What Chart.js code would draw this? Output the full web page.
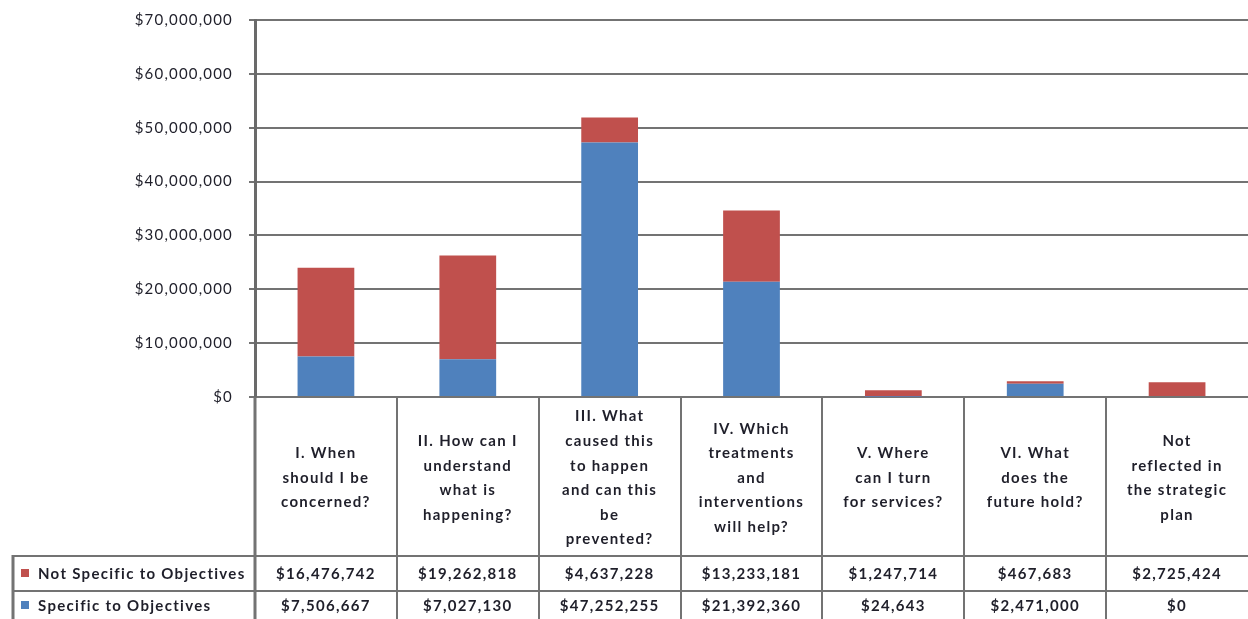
<!DOCTYPE html>
<html>
<head>
<meta charset="utf-8">
<script src="https://cdn.jsdelivr.net/npm/chart.js"></script>
<style>
  html, body { margin: 0; padding: 0; background: #fff; }
  #wrap { width: 1248px; height: 619px; position: relative; }
</style>
</head>
<body>
<div id="wrap"><canvas id="chart"></canvas></div>
<script>
// data
var categories = [
  ['I. When', 'should I be', 'concerned?'],
  ['II. How can I', 'understand', 'what is', 'happening?'],
  ['III. What', 'caused this', 'to happen', 'and can this', 'be', 'prevented?'],
  ['IV. Which', 'treatments', 'and', 'interventions', 'will help?'],
  ['V. Where', 'can I turn', 'for services?'],
  ['VI. What', 'does the', 'future hold?'],
  ['Not', 'reflected in', 'the strategic', 'plan']
];
var notSpecific = [16476742, 19262818, 4637228, 13233181, 1247714, 467683, 2725424];
var specific    = [7506667, 7027130, 47252255, 21392360, 24643, 2471000, 0];
var seriesNames = ['Not Specific to Objectives', 'Specific to Objectives'];
var yMax = 70000000, yStep = 10000000;

var RED = '#c0504d', BLUE = '#4f81bd';
var LINE = '#737373', TEXT = '#1f1f2a';
var FONT = 'Lato, "Open Sans", sans-serif';

function money(v) { return '$' + Math.round(v).toLocaleString('en-US'); }

// the original text is set rather loose, so widen the tick labels a bit
var spacing = {
  id: 'spacing',
  beforeDraw: function (chart) { chart.ctx.letterSpacing = '1.2px'; },
  afterDraw: function (chart) { chart.ctx.letterSpacing = '0px'; }
};

// draws the Excel-style data table under the plot area
var dataTable = {
  id: 'dataTable',
  afterDraw: function (chart) {
    var ctx = chart.ctx, area = chart.chartArea, xs = chart.scales.x;
    var n = categories.length;
    var w = (area.right - area.left) / n;
    var headTop = area.bottom, row1Top = 556, row2Top = 591, bottom = chart.height;
    var tableLeft = 13;

    ctx.save();
    ctx.letterSpacing = '1.3px';
    ctx.fillStyle = TEXT;
    ctx.textAlign = 'center';
    ctx.textBaseline = 'middle';
    ctx.font = 'bold 15px ' + FONT;
    categories.forEach(function (lines, i) {
      var cx = xs.getPixelForValue(i);
      var lh = 24.6, y0 = 478 - (lines.length - 1) * lh / 2;
      lines.forEach(function (s, j) { ctx.fillText(s, cx, y0 + j * lh); });
    });

    var rows = [
      { name: seriesNames[0], color: RED, values: notSpecific, y: 574 },
      { name: seriesNames[1], color: BLUE, values: specific, y: 606 }
    ];
    rows.forEach(function (r) {
      ctx.textAlign = 'center';
      r.values.forEach(function (v, i) { ctx.fillText(money(v), xs.getPixelForValue(i), r.y); });
      ctx.fillStyle = r.color;
      ctx.fillRect(21, r.y - 5, 8, 8);
      ctx.fillStyle = TEXT;
      ctx.textAlign = 'left';
      ctx.fillText(r.name, 38, r.y);
    });

    ctx.strokeStyle = LINE;
    ctx.lineWidth = 2;
    ctx.beginPath();
    for (var i = 1; i < n; i++) {
      var bx = Math.round(area.left + i * w);
      ctx.moveTo(bx, headTop); ctx.lineTo(bx, bottom);
    }
    ctx.moveTo(tableLeft, row1Top); ctx.lineTo(area.right, row1Top);
    ctx.moveTo(tableLeft, row2Top); ctx.lineTo(area.right, row2Top);
    ctx.stroke();

    ctx.lineWidth = 3;
    ctx.beginPath();
    ctx.moveTo(tableLeft, row1Top - 1); ctx.lineTo(tableLeft, bottom);
    ctx.moveTo(area.left, headTop); ctx.lineTo(area.left, bottom);
    ctx.stroke();
    ctx.restore();
  }
};

new Chart(document.getElementById('chart'), {
  type: 'bar',
  data: {
    labels: categories,
    datasets: [
      { label: seriesNames[1], data: specific, backgroundColor: BLUE },
      { label: seriesNames[0], data: notSpecific, backgroundColor: RED }
    ]
  },
  options: {
    responsive: true,
    maintainAspectRatio: false,
    animation: false,
    layout: { padding: { top: 20, bottom: 222, left: 0, right: 0 } },
    datasets: { bar: { categoryPercentage: 1, barPercentage: 0.4 } },
    plugins: { legend: { display: false }, tooltip: { enabled: false } },
    scales: {
      x: { stacked: true, display: false },
      y: {
        stacked: true,
        min: 0, max: yMax,
        afterFit: function (s) { s.width = 255; s.paddingTop = 0; s.paddingBottom = 0; },
        ticks: {
          stepSize: yStep,
          padding: 16,
          color: TEXT,
          font: { family: FONT, size: 15 },
          callback: function (v) { return money(v); }
        },
        grid: { color: LINE, lineWidth: 2, tickLength: 6 },
        border: { display: true, color: '#6a6a6a', width: 3 }
      }
    }
  },
  plugins: [spacing, dataTable]
});
</script>
</body>
</html>
